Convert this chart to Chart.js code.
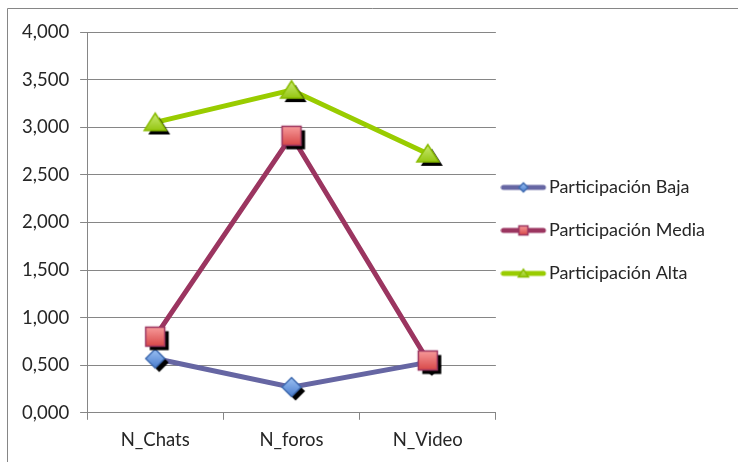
<!DOCTYPE html>
<html>
<head>
<meta charset="utf-8">
<script src="https://cdn.jsdelivr.net/npm/chart.js@4"></script>
<style>
    body { margin: 0; background: #fff; }
    canvas { display: block; }
</style>
</head>
<body>
<canvas id="chart" width="738" height="462"></canvas>
<script>
const categories = ["N_Chats", "N_foros", "N_Video"];
const seriesNames = ["Participación Baja", "Participación Media", "Participación Alta"];
const baja = [0.57, 0.27, 0.53];
const media = [0.80, 2.91, 0.55];
const alta = [3.05, 3.39, 2.72];


// marker pictures, drawn once on small canvases
function shapePath(ctx, shape, cx, cy, s)
{
    ctx.beginPath();
    if (shape === "diamond") {
        ctx.moveTo(cx, cy - s / 2);
        ctx.lineTo(cx + s / 2, cy);
        ctx.lineTo(cx, cy + s / 2);
        ctx.lineTo(cx - s / 2, cy);
    } else if (shape === "square") {
        ctx.rect(cx - s / 2, cy - s / 2, s, s);
    } else {
        ctx.moveTo(cx, cy - s * 0.42);
        ctx.lineTo(cx + s / 2, cy + s * 0.36);
        ctx.lineTo(cx - s / 2, cy + s * 0.36);
    }
    ctx.closePath();
}

function makeMarker(shape, size, colTop, colBottom, border, shadow)
{
    const half = Math.ceil(size / 2 + (shadow ? 6 : 2));
    const c = document.createElement("canvas");
    c.width = half * 2;
    c.height = half * 2;
    const ctx = c.getContext("2d");
    if (shadow) {
        shapePath(ctx, shape, half + 4, half + 4, size);
        ctx.fillStyle = "#000";
        ctx.fill();
    }
    const g = ctx.createLinearGradient(0, half - size / 2, 0, half + size / 2);
    g.addColorStop(0, colTop);
    g.addColorStop(1, colBottom);
    shapePath(ctx, shape, half, half, size);
    ctx.fillStyle = g;
    ctx.fill();
    ctx.lineWidth = 1.5;
    ctx.strokeStyle = border;
    ctx.stroke();
    return c;
}

// legend picture: line with a small marker, placed in the left part of a wider canvas
function makeLegendIcon(lineColor, marker)
{
    const c = document.createElement("canvas");
    c.width = 60;
    c.height = 14;
    const ctx = c.getContext("2d");
    ctx.strokeStyle = lineColor;
    ctx.lineWidth = 5;
    ctx.lineCap = "round";
    ctx.beginPath();
    ctx.moveTo(3, 7);
    ctx.lineTo(43, 7);
    ctx.stroke();
    ctx.drawImage(marker, 23 - marker.width / 2, 7 - marker.height / 2);
    return c;
}

const lineColors = ["#6666a3", "#9b3560", "#99cc00"];
const markers = [
    makeMarker("diamond", 19, "#9cc2f4", "#4a7ccc", "#3f6bb0", true),
    makeMarker("square", 19, "#f79a9a", "#d84848", "#9b3560", true),
    makeMarker("triangle", 22, "#d0ee80", "#8cc000", "#88bb00", true)
];
const legendIcons = [
    makeLegendIcon(lineColors[0], makeMarker("diamond", 9, "#9cc2f4", "#4a7ccc", "#3f6bb0", false)),
    makeLegendIcon(lineColors[1], makeMarker("square", 9, "#f79a9a", "#d84848", "#9b3560", false)),
    makeLegendIcon(lineColors[2], makeMarker("triangle", 10, "#d0ee80", "#8cc000", "#88bb00", false))
];

const frame = {
    id: "frame",
    beforeDraw(chart) {
        const ctx = chart.ctx;
        ctx.save();
        ctx.strokeStyle = "#868686";
        ctx.lineWidth = 1;
        ctx.beginPath();
        ctx.moveTo(7.5, chart.height);
        ctx.lineTo(7.5, 8.5);
        ctx.lineTo(chart.width, 8.5);
        ctx.stroke();
        ctx.restore();
    }
};

const allSeries = [baja, media, alta];
const datasets = allSeries.map((values, i) => ({
    label: seriesNames[i],
    data: values,
    borderColor: lineColors[i],
    backgroundColor: lineColors[i],
    borderWidth: 5,
    tension: 0,
    pointStyle: markers[i],
    pointRadius: 10,
    pointHoverRadius: 10,
    order: 3 - i
}));

Chart.defaults.font.family = "Lato, 'Open Sans', sans-serif";
Chart.defaults.font.size = 18.5;
Chart.defaults.color = "#262626";

new Chart(document.getElementById("chart"), {
    type: "line",
    data: { labels: categories, datasets: datasets },
    plugins: [frame],
    options: {
        responsive: false,
        animation: false,
        layout: { padding: { left: 11, top: 32, right: 23, bottom: 2 } },
        plugins: {
            tooltip: { enabled: false },
            legend: {
                position: "right",
                fullSize: false,
                maxWidth: 300,
                title: { display: true, text: "", font: { size: 10 }, padding: 2 },
                labels: {
                    usePointStyle: true,
                    pointStyleWidth: 19,
                    padding: 25,
                    font: { size: 18 },
                    generateLabels: (chart) => chart.data.datasets.map((ds, i) => ({
                        text: ds.label,
                        pointStyle: legendIcons[i],
                        fillStyle: ds.borderColor,
                        strokeStyle: ds.borderColor,
                        lineWidth: 0,
                        hidden: false,
                        datasetIndex: i
                    }))
                }
            }
        },
        scales: {
            x: {
                offset: true,
                grid: {
                    offset: true,
                    drawOnChartArea: false,
                    tickLength: 7,
                    color: "#868686"
                },
                border: { color: "#868686" },
                ticks: { padding: 9 }
            },
            y: {
                min: 0,
                max: 4,
                grid: { color: "#868686", tickLength: 7 },
                border: { color: "#868686" },
                ticks: {
                    stepSize: 0.5,
                    padding: 11,
                    callback: (v) => v.toFixed(3).replace(".", ",")
                }
            }
        }
    }
});
</script>
</body>
</html>
